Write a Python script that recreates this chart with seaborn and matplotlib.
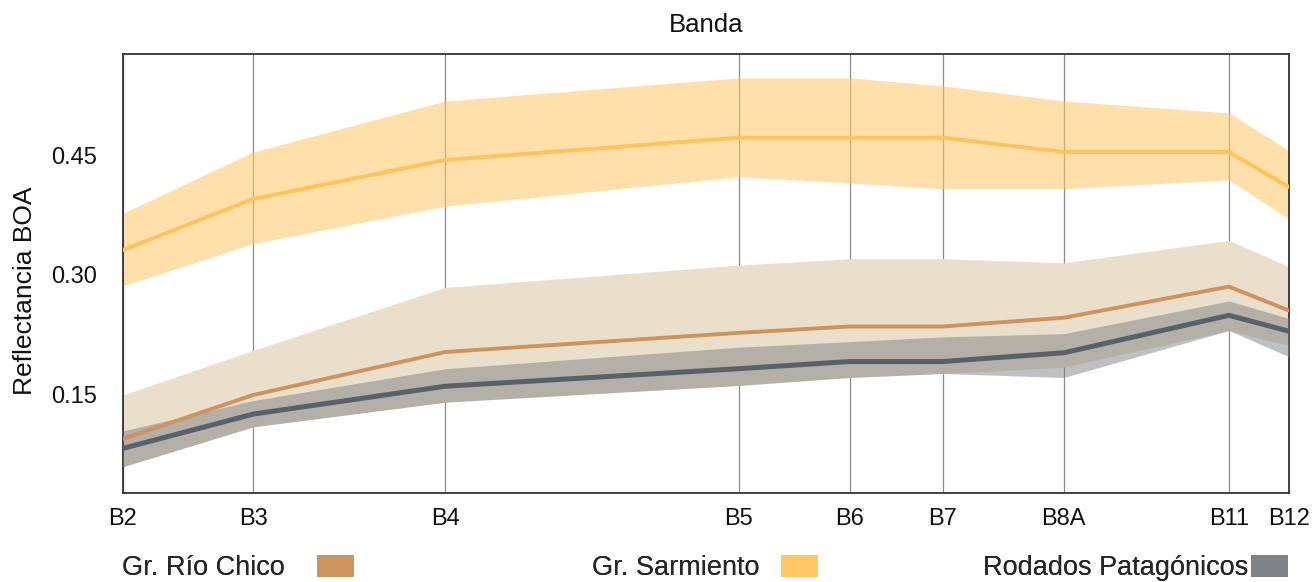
import matplotlib
matplotlib.use("Agg")
import matplotlib.pyplot as plt
import seaborn as sns
import pandas as pd
from matplotlib.patches import Patch

# ---- data ----
bands = ["B2", "B3", "B4", "B5", "B6", "B7", "B8A", "B11", "B12"]
band_x = [0, 130, 322, 615, 726, 819, 940, 1105, 1165]

groups = ["Gr. Río Chico", "Gr. Sarmiento", "Rodados Patagónicos"]

rio_mean = [0.094, 0.149, 0.203, 0.227, 0.235, 0.235, 0.246, 0.285, 0.255]
rio_upper = [0.149, 0.205, 0.284, 0.312, 0.320, 0.320, 0.315, 0.343, 0.310]
rio_lower = [0.059, 0.109, 0.140, 0.161, 0.171, 0.176, 0.184, 0.230, 0.211]

sar_mean = [0.331, 0.395, 0.444, 0.472, 0.472, 0.472, 0.454, 0.454, 0.410]
sar_upper = [0.377, 0.454, 0.518, 0.547, 0.547, 0.537, 0.518, 0.503, 0.456]
sar_lower = [0.286, 0.339, 0.386, 0.423, 0.415, 0.408, 0.408, 0.419, 0.370]

rod_mean = [0.082, 0.125, 0.160, 0.182, 0.191, 0.191, 0.202, 0.249, 0.229]
rod_upper = [0.104, 0.142, 0.182, 0.209, 0.216, 0.222, 0.226, 0.267, 0.245]
rod_lower = [0.059, 0.109, 0.140, 0.161, 0.171, 0.176, 0.171, 0.230, 0.197]

yticks = [0.15, 0.30, 0.45]

# ---- styling ----
sns.set_theme(style="white")
plt.rcParams["font.family"] = ["Liberation Sans", "DejaVu Sans"]

line_colors = {"Gr. Río Chico": "#D0925A",
               "Gr. Sarmiento": "#FFC35C",
               "Rodados Patagónicos": "#56616A"}
line_widths = {"Gr. Río Chico": 2.8,
               "Gr. Sarmiento": 2.8,
               "Rodados Patagónicos": 3.6}
fill_colors = {"Gr. Río Chico": ("#EADFCB", 1.0),
               "Gr. Sarmiento": ("#FFC766", 0.55),
               "Rodados Patagónicos": ("#7F8287", 0.5)}
legend_colors = {"Gr. Río Chico": "#CD955F",
                 "Gr. Sarmiento": "#FFC766",
                 "Rodados Patagónicos": "#7F8285"}

series = {
    "Gr. Sarmiento": (sar_mean, sar_lower, sar_upper),
    "Gr. Río Chico": (rio_mean, rio_lower, rio_upper),
    "Rodados Patagónicos": (rod_mean, rod_lower, rod_upper),
}

rows = []
for g, (m, lo, hi) in series.items():
    for b, x, v, l, h in zip(bands, band_x, m, lo, hi):
        rows.append({"group": g, "band": b, "x": x, "value": v, "lo": l, "hi": h})
df = pd.DataFrame(rows)

fig = plt.figure(figsize=(13.12, 5.82), dpi=100)
ax = fig.add_axes([123 / 1312, 1 - 493 / 582, (1289 - 123) / 1312, (493 - 54) / 582])

# bands (fills)
order = ["Gr. Sarmiento", "Gr. Río Chico", "Rodados Patagónicos"]
for z, g in enumerate(order):
    sub = df[df["group"] == g]
    c, a = fill_colors[g]
    ax.fill_between(sub["x"], sub["lo"], sub["hi"], color=c, alpha=a, lw=0, zorder=1 + z)

# lines
for g in order:
    sns.lineplot(data=df[df["group"] == g], x="x", y="value", color=line_colors[g],
                 lw=line_widths[g], ax=ax, legend=False, zorder=5, estimator=None)

# vertical grid lines at bands
for x in band_x:
    ax.axvline(x, color="#8c8c8c", lw=0.9, zorder=0.5)

ax.set_xlim(band_x[0], band_x[-1])
ax.set_ylim(0.026, 0.577)
ax.set_xticks(band_x)
ax.set_xticklabels(bands)
ax.set_yticks(yticks)
ax.set_yticklabels([f"{v:.2f}" for v in yticks])
ax.tick_params(axis="x", length=0, pad=11, labelsize=17, colors="#111111")
ax.tick_params(axis="y", length=0, pad=19, labelsize=17, colors="#111111")
ax.set_xlabel("")
ax.set_ylabel("Reflectancia BOA", fontsize=19, labelpad=10, color="#111111", y=0.46)
ax.set_title("Banda", fontsize=18.5, pad=16, color="#111111")
for s in ax.spines.values():
    s.set_visible(True)
    s.set_color("#333333")
    s.set_linewidth(1.3)

# legend: three entries, text then square
right_edges = [354, 818, 1288]
for g, xr in zip(groups, right_edges):
    h = Patch(facecolor=legend_colors[g], edgecolor="none")
    leg = fig.legend(handles=[h], labels=[g], loc="center right",
                     bbox_to_anchor=(xr / 1312, 1 - 568 / 582),
                     frameon=False, markerfirst=False, fontsize=19.5,
                     handlelength=1.35, handleheight=0.85,
                     handletextpad=1.2 if g == "Gr. Río Chico" else (0.8 if g == "Gr. Sarmiento" else 0.1),
                     borderpad=0, borderaxespad=0)
    fig.add_artist(leg)

fig.savefig("out.png", dpi=100)
